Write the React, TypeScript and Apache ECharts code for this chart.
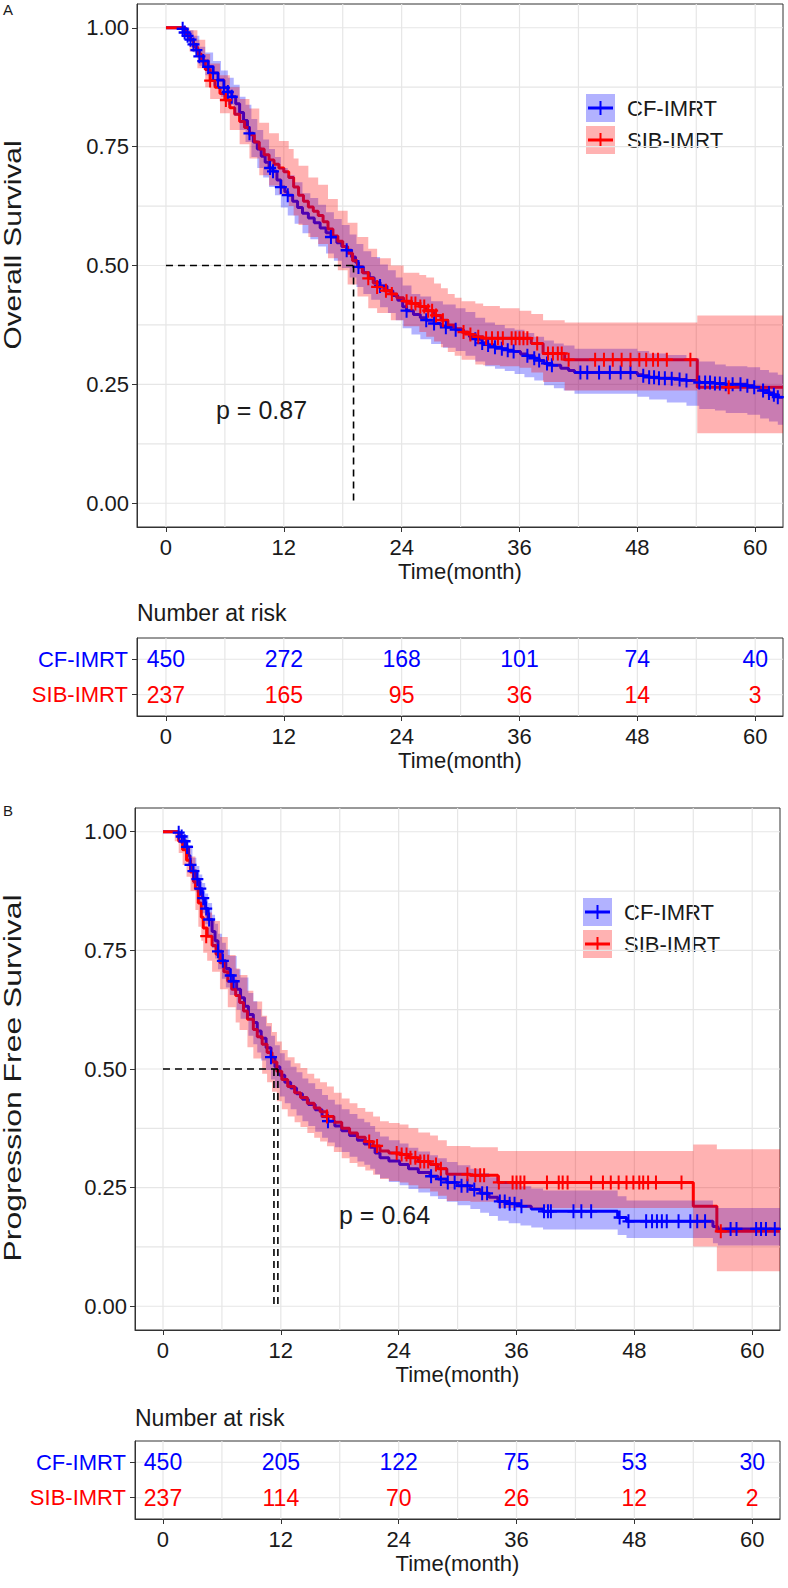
import React, { useEffect, useRef } from 'react';
import * as echarts from 'echarts';

const FONT = '"Liberation Sans", Arial, Helvetica, sans-serif';
const BLUE = '#0000FF';
const RED = '#FF0000';
const BLUE_FILL = 'rgba(0,0,255,0.3)';
const RED_FILL = 'rgba(255,0,0,0.3)';
const TXT = '#1a1a1a';

const timeTicks = [0, 12, 24, 36, 48, 60];
const survTicks = [0, 0.25, 0.5, 0.75, 1];
const gridTimes = [0, 6, 12, 18, 24, 30, 36, 42, 48, 54, 60];
const gridSurv = [0, 0.125, 0.25, 0.375, 0.5, 0.625, 0.75, 0.875, 1];
const groups = ['CF-IMRT', 'SIB-IMRT'];

// ---------- Panel A: Overall survival ----------
const osCF: number[][] = [[0,1],[1.6,0.998],[1.9,0.99],[2.2,0.983],[2.5,0.975],[2.8,0.965],[3.1,0.953],[3.4,0.94],[3.8,0.93],[4.3,0.918],[4.8,0.905],[5.3,0.89],[5.9,0.874],[6.3,0.865],[6.7,0.855],[7.1,0.84],[7.5,0.822],[7.9,0.805],[8.3,0.788],[8.5,0.778],[8.9,0.76],[9.3,0.745],[9.7,0.73],[10.1,0.717],[10.5,0.705],[10.9,0.698],[11.3,0.68],[11.7,0.665],[12.1,0.655],[12.4,0.648],[12.9,0.635],[13.4,0.622],[13.9,0.61],[14.5,0.6],[15.1,0.59],[15.7,0.579],[16.3,0.569],[16.8,0.56],[17.4,0.548],[17.9,0.54],[18.4,0.532],[18.9,0.518],[19.3,0.507],[19.6,0.497],[20.1,0.485],[20.7,0.474],[21.2,0.465],[21.8,0.457],[22.5,0.447],[23.1,0.437],[23.6,0.427],[24.1,0.413],[24.5,0.405],[25.2,0.397],[25.9,0.39],[26.5,0.385],[27.3,0.378],[28.0,0.373],[28.5,0.37],[29.5,0.365],[30.3,0.358],[30.9,0.35],[31.5,0.345],[32.2,0.337],[32.8,0.333],[33.5,0.328],[34.2,0.325],[34.8,0.322],[35.4,0.319],[36.1,0.314],[36.8,0.31],[37.5,0.305],[38.0,0.3],[38.5,0.294],[39.3,0.29],[40.2,0.284],[41.0,0.279],[41.6,0.275],[48.0,0.27],[48.6,0.268],[49.2,0.265],[50.2,0.263],[51.5,0.262],[52.3,0.26],[53.0,0.258],[54.3,0.254],[55.9,0.252],[57.0,0.25],[59.2,0.247],[59.9,0.244],[60.5,0.238],[60.8,0.237],[61.4,0.232],[61.9,0.228],[62.3,0.223],[62.83,0.223]];
const osSIB: number[][] = [[0,1],[1.6,1],[2.0,0.987],[2.4,0.975],[2.8,0.96],[3.2,0.945],[3.6,0.93],[4.0,0.912],[4.5,0.889],[5.0,0.875],[5.5,0.862],[6.0,0.848],[6.5,0.832],[7.0,0.818],[7.5,0.803],[8.0,0.79],[8.5,0.775],[9.0,0.76],[9.5,0.745],[10.0,0.733],[10.5,0.722],[11.0,0.713],[11.5,0.705],[12.0,0.697],[12.5,0.685],[13.0,0.665],[13.5,0.648],[14.0,0.635],[14.5,0.623],[15.0,0.614],[15.5,0.605],[16.0,0.592],[16.5,0.577],[17.0,0.562],[17.5,0.551],[18.0,0.54],[18.5,0.526],[19.0,0.51],[19.5,0.497],[20.0,0.485],[20.6,0.473],[21.1,0.463],[21.5,0.455],[22.2,0.447],[22.9,0.44],[23.5,0.432],[24.2,0.425],[25.0,0.42],[25.8,0.414],[26.5,0.405],[27.3,0.395],[28.0,0.385],[28.7,0.375],[29.4,0.367],[30.1,0.36],[30.8,0.355],[31.5,0.35],[32.3,0.347],[37.2,0.336],[38.4,0.315],[40.6,0.302],[54.1,0.244],[62.83,0.244]];
const osCFCensor: number[][] = [[1.7,0.998],[1.9,0.99],[2.2,0.983],[2.5,0.975],[2.8,0.965],[3.1,0.953],[3.4,0.94],[3.8,0.93],[4.3,0.918],[4.8,0.905],[5.3,0.89],[5.9,0.874],[6.3,0.865],[6.7,0.855],[8.5,0.778],[10.6,0.705],[10.9,0.698],[11.7,0.665],[12.4,0.648],[16.8,0.56],[18.4,0.532],[19.6,0.497],[21.8,0.457],[24.5,0.405],[26.5,0.385],[27.3,0.378],[28.5,0.37],[29.5,0.365],[31.5,0.345],[32.2,0.337],[32.8,0.333],[33.5,0.328],[34.2,0.325],[34.8,0.322],[35.4,0.319],[36.8,0.31],[37.5,0.305],[38.0,0.3],[38.8,0.294],[39.3,0.29],[42.2,0.275],[42.9,0.275],[44.1,0.275],[45.2,0.275],[46.3,0.275],[47.3,0.275],[48.6,0.268],[49.2,0.265],[49.7,0.265],[50.2,0.263],[50.8,0.263],[51.5,0.262],[52.3,0.26],[53.0,0.258],[54.3,0.254],[54.9,0.254],[55.4,0.254],[55.9,0.252],[56.4,0.252],[57.0,0.25],[57.7,0.25],[58.5,0.25],[59.2,0.247],[59.9,0.244],[60.8,0.237],[61.4,0.232],[61.9,0.228],[62.3,0.223]];
const osSIBCensor: number[][] = [[4.5,0.889],[6.1,0.848],[20.6,0.473],[21.5,0.455],[22.4,0.447],[23.0,0.44],[24.5,0.425],[25.0,0.42],[25.4,0.42],[25.9,0.414],[26.3,0.414],[26.7,0.405],[27.1,0.405],[27.5,0.395],[28.2,0.385],[30.3,0.36],[31.0,0.355],[31.8,0.35],[32.6,0.347],[33.2,0.347],[33.8,0.347],[34.3,0.347],[35.2,0.347],[35.6,0.347],[36.0,0.347],[36.4,0.347],[36.8,0.347],[37.8,0.336],[38.9,0.315],[39.4,0.315],[39.9,0.315],[40.3,0.315],[41.0,0.302],[43.7,0.302],[44.6,0.302],[45.5,0.302],[46.4,0.302],[47.3,0.302],[48.2,0.302],[48.9,0.302],[49.6,0.302],[50.1,0.302],[51.0,0.302],[53.4,0.302],[57.3,0.244]];
// [time, lower, upper]
const osCFBand: number[][] = [[0,1,1],[1.6,0.99,1],[2.2,0.97,0.995],[2.8,0.948,0.983],[3.4,0.92,0.96],[4.0,0.9,0.948],[4.8,0.878,0.93],[5.6,0.855,0.91],[6.3,0.838,0.895],[6.9,0.815,0.88],[7.5,0.785,0.855],[8.1,0.76,0.838],[8.7,0.728,0.808],[9.3,0.705,0.785],[9.9,0.685,0.765],[10.5,0.665,0.745],[11.1,0.648,0.728],[11.7,0.622,0.705],[12.4,0.605,0.69],[13.1,0.588,0.675],[13.9,0.568,0.652],[14.7,0.555,0.642],[15.5,0.54,0.628],[16.3,0.525,0.612],[17.1,0.51,0.598],[17.9,0.495,0.585],[18.7,0.475,0.565],[19.4,0.455,0.545],[20.1,0.44,0.53],[20.9,0.428,0.518],[21.8,0.412,0.502],[22.6,0.4,0.49],[23.4,0.385,0.475],[24.1,0.368,0.458],[25.0,0.355,0.44],[25.9,0.345,0.435],[27.0,0.335,0.425],[28.2,0.327,0.418],[29.5,0.32,0.41],[30.5,0.31,0.402],[31.5,0.298,0.39],[32.5,0.288,0.38],[33.5,0.283,0.375],[34.5,0.278,0.368],[35.5,0.272,0.365],[36.5,0.265,0.358],[37.5,0.258,0.35],[38.5,0.248,0.342],[39.5,0.242,0.336],[40.5,0.237,0.332],[41.6,0.23,0.325],[48.0,0.224,0.32],[49.2,0.218,0.315],[51.0,0.212,0.312],[53.0,0.205,0.305],[54.3,0.198,0.298],[55.9,0.195,0.292],[57.0,0.19,0.288],[59.2,0.186,0.286],[60.5,0.178,0.28],[61.4,0.172,0.275],[62.3,0.165,0.27],[62.83,0.165,0.27]];
const osSIBBand: number[][] = [[0,1,1],[1.6,0.98,1],[2.4,0.95,0.995],[3.2,0.915,0.975],[4.0,0.875,0.945],[4.5,0.85,0.925],[5.5,0.82,0.9],[6.5,0.785,0.875],[7.5,0.755,0.85],[8.5,0.725,0.83],[9.5,0.69,0.8],[10.5,0.668,0.778],[11.5,0.65,0.762],[12.5,0.625,0.745],[13.0,0.605,0.725],[13.5,0.585,0.71],[14.5,0.56,0.685],[15.5,0.545,0.67],[16.5,0.515,0.64],[17.5,0.49,0.615],[18.5,0.46,0.59],[19.5,0.435,0.56],[20.6,0.41,0.535],[21.5,0.4,0.515],[22.9,0.385,0.5],[24.2,0.372,0.485],[25.8,0.36,0.48],[26.5,0.35,0.475],[27.3,0.34,0.462],[28.0,0.328,0.452],[28.7,0.318,0.44],[29.4,0.31,0.432],[30.1,0.302,0.425],[31.5,0.292,0.42],[32.3,0.29,0.415],[34.0,0.288,0.41],[36.0,0.285,0.405],[37.2,0.275,0.398],[38.4,0.255,0.385],[40.6,0.237,0.38],[54.1,0.147,0.395],[62.83,0.147,0.395]];
const osMedianH: number[][] = [[0,0.5],[19.1,0.5]];
const osMedianV: number[][] = [[19.1,0.5],[19.1,0]];
const osRiskCF = [450, 272, 168, 101, 74, 40];
const osRiskSIB = [237, 165, 95, 36, 14, 3];

// ---------- Panel B: Progression free survival ----------
const pfsCF: number[][] = [[0,1],[1.55,0.998],[1.8,0.99],[2.1,0.98],[2.4,0.968],[2.6,0.95],[2.75,0.93],[3.0,0.917],[3.4,0.9],[3.7,0.88],[4.0,0.86],[4.3,0.838],[4.6,0.815],[5.0,0.79],[5.3,0.77],[5.6,0.748],[6.0,0.728],[6.4,0.712],[6.8,0.697],[7.1,0.685],[7.5,0.668],[7.9,0.65],[8.3,0.632],[8.7,0.615],[9.2,0.598],[9.6,0.58],[10.0,0.565],[10.5,0.545],[11.0,0.525],[11.4,0.505],[11.9,0.487],[12.4,0.472],[13.0,0.46],[13.6,0.448],[14.2,0.436],[14.8,0.425],[15.5,0.414],[16.2,0.4],[16.8,0.39],[17.5,0.38],[18.2,0.37],[19.0,0.36],[19.8,0.35],[20.5,0.342],[21.1,0.335],[21.6,0.323],[22.1,0.313],[23.0,0.306],[24.1,0.299],[25.0,0.29],[26.0,0.282],[27.2,0.274],[28.0,0.268],[28.9,0.261],[30.0,0.254],[31.3,0.246],[32.3,0.238],[33.2,0.23],[34.1,0.221],[35.2,0.216],[36.4,0.211],[37.5,0.205],[38.7,0.2],[46.3,0.187],[47.2,0.179],[56.0,0.168],[56.5,0.163],[62.83,0.163]];
const pfsSIB: number[][] = [[0,1],[1.2,1],[1.6,0.98],[2.0,0.962],[2.4,0.94],[2.8,0.915],[3.1,0.895],[3.3,0.88],[3.6,0.85],[3.9,0.82],[4.1,0.797],[4.5,0.78],[5.0,0.76],[5.4,0.742],[5.8,0.724],[6.2,0.705],[6.6,0.685],[7.0,0.668],[7.4,0.655],[7.8,0.64],[8.2,0.622],[8.6,0.605],[9.2,0.583],[9.6,0.568],[10.1,0.552],[10.6,0.535],[11.1,0.515],[11.6,0.495],[12.1,0.478],[12.7,0.463],[13.4,0.45],[14.0,0.44],[14.7,0.428],[15.4,0.418],[16.0,0.41],[16.7,0.4],[17.4,0.388],[18.2,0.375],[19.0,0.365],[19.8,0.356],[20.6,0.347],[21.4,0.338],[22.1,0.327],[23.0,0.323],[24.1,0.32],[25.0,0.313],[26.0,0.305],[27.2,0.299],[28.0,0.29],[28.9,0.278],[31.3,0.276],[34.1,0.261],[54.0,0.211],[56.4,0.158],[62.83,0.158]];
const pfsCFCensor: number[][] = [[1.6,0.998],[1.9,0.99],[2.2,0.98],[2.45,0.968],[2.8,0.93],[3.1,0.917],[3.5,0.9],[3.8,0.88],[4.1,0.86],[4.4,0.838],[4.7,0.815],[5.6,0.748],[6.1,0.728],[6.9,0.697],[7.2,0.685],[11.0,0.525],[16.8,0.39],[27.3,0.274],[28.3,0.268],[29.0,0.261],[29.7,0.261],[30.4,0.254],[31.0,0.254],[31.7,0.246],[32.5,0.238],[33.0,0.238],[34.3,0.221],[34.8,0.221],[35.3,0.216],[35.8,0.216],[36.5,0.211],[38.8,0.2],[39.2,0.2],[39.5,0.2],[41.8,0.2],[42.6,0.2],[43.6,0.2],[46.5,0.187],[47.4,0.179],[49.2,0.179],[49.8,0.179],[50.3,0.179],[50.8,0.179],[51.3,0.179],[52.5,0.179],[53.7,0.179],[54.4,0.179],[55.2,0.179],[57.8,0.163],[58.4,0.163],[60.4,0.163],[60.9,0.163],[61.4,0.163],[62.3,0.163]];
const pfsSIBCensor: number[][] = [[4.4,0.78],[16.7,0.4],[21.0,0.347],[21.8,0.338],[23.8,0.323],[24.3,0.32],[24.8,0.32],[25.2,0.313],[25.7,0.313],[26.2,0.305],[26.6,0.305],[27.0,0.305],[27.8,0.299],[28.3,0.29],[31.0,0.278],[31.8,0.276],[32.3,0.276],[32.7,0.276],[34.2,0.261],[35.6,0.261],[36.0,0.261],[36.4,0.261],[36.8,0.261],[39.1,0.261],[40.3,0.261],[40.7,0.261],[41.2,0.261],[43.6,0.261],[44.8,0.261],[45.6,0.261],[46.4,0.261],[47.2,0.261],[47.9,0.261],[48.5,0.261],[48.9,0.261],[49.4,0.261],[50.2,0.261],[52.8,0.261],[56.8,0.158]];
const pfsCFBand: number[][] = [[0,1,1],[1.55,0.99,1],[2.1,0.963,0.993],[2.6,0.928,0.972],[3.0,0.89,0.945],[3.4,0.872,0.928],[3.7,0.85,0.91],[4.0,0.828,0.892],[4.3,0.805,0.87],[4.6,0.78,0.85],[5.0,0.755,0.825],[5.3,0.733,0.806],[5.6,0.71,0.785],[6.0,0.69,0.766],[6.4,0.672,0.752],[6.8,0.656,0.738],[7.5,0.625,0.71],[7.9,0.606,0.693],[8.7,0.57,0.66],[9.2,0.552,0.643],[9.6,0.535,0.626],[10.0,0.518,0.61],[10.5,0.498,0.59],[11.0,0.478,0.57],[11.4,0.46,0.55],[11.9,0.442,0.533],[12.4,0.428,0.518],[13.0,0.415,0.505],[13.6,0.402,0.493],[14.2,0.39,0.48],[14.8,0.38,0.47],[15.5,0.368,0.458],[16.2,0.355,0.445],[16.8,0.345,0.435],[17.5,0.335,0.425],[18.2,0.325,0.415],[19.0,0.315,0.405],[19.8,0.305,0.395],[20.5,0.298,0.388],[21.1,0.29,0.38],[21.6,0.278,0.368],[22.1,0.27,0.358],[23.0,0.262,0.35],[24.1,0.255,0.343],[25.0,0.247,0.334],[26.0,0.24,0.326],[27.2,0.232,0.318],[28.0,0.226,0.312],[28.9,0.22,0.304],[30.0,0.213,0.297],[31.3,0.205,0.29],[32.3,0.197,0.281],[33.2,0.19,0.272],[34.1,0.18,0.263],[35.2,0.175,0.258],[36.4,0.17,0.253],[37.5,0.166,0.248],[38.7,0.162,0.244],[46.3,0.15,0.232],[47.2,0.144,0.223],[56.0,0.133,0.212],[56.5,0.128,0.207],[62.83,0.128,0.207]];
const pfsSIBBand: number[][] = [[0,1,1],[1.2,0.98,1],[1.6,0.955,0.995],[2.0,0.93,0.985],[2.4,0.905,0.97],[2.8,0.875,0.948],[3.3,0.835,0.92],[3.6,0.8,0.895],[3.9,0.77,0.868],[4.1,0.745,0.845],[4.5,0.728,0.83],[5.0,0.705,0.812],[5.8,0.668,0.778],[6.6,0.63,0.74],[7.4,0.598,0.712],[7.8,0.582,0.698],[8.6,0.546,0.665],[9.2,0.522,0.642],[10.1,0.49,0.612],[10.6,0.472,0.597],[11.1,0.452,0.578],[11.6,0.432,0.558],[12.1,0.415,0.54],[12.7,0.4,0.525],[13.4,0.388,0.512],[14.0,0.378,0.502],[14.7,0.365,0.49],[15.4,0.355,0.48],[16.0,0.347,0.472],[16.7,0.337,0.463],[17.4,0.325,0.45],[18.2,0.312,0.438],[19.0,0.302,0.428],[19.8,0.294,0.418],[20.6,0.286,0.41],[21.4,0.277,0.4],[22.1,0.268,0.39],[23.0,0.264,0.386],[24.1,0.261,0.383],[25.0,0.255,0.375],[26.0,0.248,0.366],[27.2,0.242,0.36],[28.0,0.233,0.35],[28.9,0.222,0.338],[31.3,0.22,0.335],[34.1,0.207,0.327],[54.0,0.126,0.341],[56.4,0.074,0.331],[62.83,0.074,0.331]];
const pfsMedianH: number[][] = [[0,0.5],[11.7,0.5]];
const pfsMedianV1: number[][] = [[11.7,0.5],[11.7,0]];
const pfsMedianV2: number[][] = [[11.3,0.5],[11.3,0]];
const pfsRiskCF = [450, 205, 122, 75, 53, 30];
const pfsRiskSIB = [237, 114, 70, 26, 12, 2];

const PLUS = 'path://M5,0h2v5h5v2h-5v5h-2v-5h-5v-2h5z';

function gridLineSeries(xi: number, yi: number, xs: number[], ys: number[], xr: number[], yr: number[]) {
  const items: number[][] = [];
  xs.forEach((x) => items.push([x, yr[0], 0]));
  ys.forEach((y) => items.push([xr[0], y, 1]));
  return {
    type: 'custom', xAxisIndex: xi, yAxisIndex: yi, z: 0, silent: true,
    data: items, encode: { x: 0, y: 1 },
    renderItem: (params: any, api: any) => {
      const a = api.value(0), b = api.value(1), kind = api.value(2);
      const p1 = kind === 0 ? api.coord([a, yr[0]]) : api.coord([xr[0], b]);
      const p2 = kind === 0 ? api.coord([a, yr[1]]) : api.coord([xr[1], b]);
      return { type: 'line', shape: { x1: p1[0], y1: p1[1], x2: p2[0], y2: p2[1] }, style: { stroke: '#E6E6E6', lineWidth: 1.2 } };
    },
  };
}

function bandSeries(band: number[][], fill: string, xi: number, yi: number) {
  return {
    type: 'custom', xAxisIndex: xi, yAxisIndex: yi, z: 3, silent: true,
    data: band, encode: { x: 0, y: [1, 2] },
    renderItem: (params: any, api: any) => {
      if (params.dataIndex !== 0) return null;
      const up: number[][] = [];
      const lo: number[][] = [];
      for (let i = 0; i < band.length; i++) {
        const t = band[i][0];
        const tn = i < band.length - 1 ? band[i + 1][0] : t;
        up.push(api.coord([t, band[i][2]]), api.coord([tn, band[i][2]]));
        lo.push(api.coord([t, band[i][1]]), api.coord([tn, band[i][1]]));
      }
      return { type: 'polygon', shape: { points: up.concat(lo.reverse()) }, style: { fill } };
    },
  };
}

function curveSeries(data: number[][], color: string, xi: number, yi: number, z: number) {
  return {
    type: 'line', xAxisIndex: xi, yAxisIndex: yi, data, step: 'end', showSymbol: false, symbol: 'none',
    z, silent: true, lineStyle: { color, width: 3 },
  };
}

function censorSeries(data: number[][], color: string, xi: number, yi: number) {
  return {
    type: 'scatter', xAxisIndex: xi, yAxisIndex: yi, data, symbol: PLUS, symbolSize: [12, 14],
    z: 4, silent: true, itemStyle: { color, opacity: 1 },
  };
}

function dashSeries(data: number[][], xi: number, yi: number) {
  return {
    type: 'line', xAxisIndex: xi, yAxisIndex: yi, data, showSymbol: false, symbol: 'none', z: 5, silent: true,
    lineStyle: { color: '#000', width: 1.6, type: [7, 5] },
  };
}

function riskTextSeries(values: number[], row: number, color: string, xi: number, yi: number) {
  return {
    type: 'custom', xAxisIndex: xi, yAxisIndex: yi, z: 4, silent: true,
    data: timeTicks.map((t, i) => [t, row, values[i]]), encode: { x: 0, y: 1 },
    renderItem: (params: any, api: any) => {
      const p = api.coord([api.value(0), api.value(1)]);
      return {
        type: 'text', x: p[0], y: p[1],
        style: { text: String(api.value(2)), fill: color, fontSize: 23, fontFamily: FONT, align: 'center', verticalAlign: 'middle' },
      };
    },
  };
}

function xAxisCfg(gi: number, min: number, max: number, labelMargin: number, nameGap: number) {
  return {
    type: 'value', gridIndex: gi, min, max,
    name: 'Time(month)', nameLocation: 'middle', nameGap,
    nameTextStyle: { fontSize: 22, color: TXT, fontFamily: FONT },
    axisLine: { show: true, onZero: false, lineStyle: { color: '#333', width: 1 } },
    axisTick: { show: true, customValues: timeTicks, length: 5, lineStyle: { color: '#333', width: 1 } },
    axisLabel: { show: true, customValues: timeTicks, margin: labelMargin, fontSize: 22, color: TXT, fontFamily: FONT },
    splitLine: { show: false }, minorSplitLine: { show: false },
  };
}

function ySurvCfg(gi: number) {
  return {
    type: 'value', gridIndex: gi, min: -0.05, max: 1.05,
    axisLine: { show: true, onZero: false, lineStyle: { color: '#333', width: 1 } },
    axisTick: { show: true, customValues: survTicks, length: 5, lineStyle: { color: '#333', width: 1 } },
    axisLabel: { show: true, customValues: survTicks, margin: 8, fontSize: 22, color: TXT, fontFamily: FONT, formatter: (v: number) => v.toFixed(2) },
    splitLine: { show: false },
  };
}

function yRiskCfg(gi: number) {
  return {
    type: 'value', gridIndex: gi, min: 0.4, max: 2.6,
    axisLine: { show: true, onZero: false, lineStyle: { color: '#333', width: 1 } },
    axisTick: { show: true, customValues: [1, 2], length: 5, lineStyle: { color: '#333', width: 1 } },
    axisLabel: {
      show: true, customValues: [1, 2], margin: 9,
      formatter: (v: number) => (v === 2 ? '{cf|' + groups[0] + '}' : '{sib|' + groups[1] + '}'),
      rich: {
        cf: { color: BLUE, fontSize: 22, fontFamily: FONT },
        sib: { color: RED, fontSize: 22, fontFamily: FONT },
      },
    },
    splitLine: { show: false },
  };
}

function legendGroup(x: number, y: number) {
  const key = (ky: number, fill: string, stroke: string, label: string) => [
    { type: 'rect', shape: { x, y: ky, width: 29, height: 28 }, style: { fill } },
    { type: 'line', shape: { x1: x + 2, y1: ky + 14, x2: x + 27, y2: ky + 14 }, style: { stroke, lineWidth: 3 } },
    { type: 'line', shape: { x1: x + 14.5, y1: ky + 7, x2: x + 14.5, y2: ky + 21 }, style: { stroke, lineWidth: 2 } },
    { type: 'text', x: x + 41, y: ky + 14, style: { text: label, fill: TXT, fontSize: 22, fontFamily: FONT, align: 'left', verticalAlign: 'middle' } },
  ];
  return [
    { type: 'rect', shape: { x: x - 11, y: y - 44, width: 160, height: 117 }, style: { fill: '#fff' } },
    ...key(y, BLUE_FILL, BLUE, groups[0]),
    ...key(y + 32, RED_FILL, RED, groups[1]),
  ];
}

export default function App() {
  const ref = useRef<HTMLDivElement>(null);
  useEffect(() => {
    if (!ref.current) return;
    const chart = echarts.init(ref.current, undefined, { renderer: 'svg' });
    const aMin = -2.95, bMin = -2.85, xMax = 62.83;
    const g = { show: true, borderColor: '#333', borderWidth: 1, backgroundColor: 'transparent', containLabel: false, outerBoundsMode: 'none' };
    const option: any = {
      animation: false,
      backgroundColor: '#fff',
      textStyle: { fontFamily: FONT },
      grid: [
        { ...g, left: 137, top: 4, width: 646, height: 523 },
        { ...g, left: 137, top: 638, width: 646, height: 78 },
        { ...g, left: 135, top: 808, width: 645, height: 522 },
        { ...g, left: 135, top: 1441, width: 645, height: 78 },
      ],
      xAxis: [
        xAxisCfg(0, aMin, xMax, 9, 33),
        xAxisCfg(1, aMin, xMax, 9, 33),
        xAxisCfg(2, bMin, xMax, 9, 33),
        xAxisCfg(3, bMin, xMax, 9, 33),
      ],
      yAxis: [ySurvCfg(0), yRiskCfg(1), ySurvCfg(2), yRiskCfg(3)],
      series: [
        gridLineSeries(0, 0, gridTimes, gridSurv, [aMin, xMax], [-0.05, 1.05]),
        gridLineSeries(1, 1, gridTimes, [1, 2], [aMin, xMax], [0.4, 2.6]),
        gridLineSeries(2, 2, gridTimes, gridSurv, [bMin, xMax], [-0.05, 1.05]),
        gridLineSeries(3, 3, gridTimes, [1, 2], [bMin, xMax], [0.4, 2.6]),

        curveSeries(osCF, BLUE, 0, 0, 2),
        curveSeries(osSIB, RED, 0, 0, 2),
        bandSeries(osCFBand, BLUE_FILL, 0, 0),
        bandSeries(osSIBBand, RED_FILL, 0, 0),
        censorSeries(osCFCensor, BLUE, 0, 0),
        censorSeries(osSIBCensor, RED, 0, 0),
        dashSeries(osMedianH, 0, 0),
        dashSeries(osMedianV, 0, 0),
        riskTextSeries(osRiskCF, 2, BLUE, 1, 1),
        riskTextSeries(osRiskSIB, 1, RED, 1, 1),

        curveSeries(pfsCF, BLUE, 2, 2, 2),
        curveSeries(pfsSIB, RED, 2, 2, 2),
        bandSeries(pfsCFBand, BLUE_FILL, 2, 2),
        bandSeries(pfsSIBBand, RED_FILL, 2, 2),
        censorSeries(pfsCFCensor, BLUE, 2, 2),
        censorSeries(pfsSIBCensor, RED, 2, 2),
        dashSeries(pfsMedianH, 2, 2),
        dashSeries(pfsMedianV1, 2, 2),
        dashSeries(pfsMedianV2, 2, 2),
        riskTextSeries(pfsRiskCF, 2, BLUE, 3, 3),
        riskTextSeries(pfsRiskSIB, 1, RED, 3, 3),
      ],
      graphic: [
        { type: 'text', x: 3, y: 2, z: 10, style: { text: 'A', fill: TXT, fontSize: 15, fontFamily: FONT } },
        { type: 'text', x: 3, y: 803, z: 10, style: { text: 'B', fill: TXT, fontSize: 15, fontFamily: FONT } },
        { type: 'text', x: 13, y: 245, rotation: Math.PI / 2, scaleX: 1.3, z: 10, style: { text: 'Overall Survival', fill: TXT, fontSize: 23, fontFamily: FONT, align: 'center', verticalAlign: 'middle' } },
        { type: 'text', x: 13, y: 1078, rotation: Math.PI / 2, scaleX: 1.33, z: 10, style: { text: 'Progression Free Survival', fill: TXT, fontSize: 24, fontFamily: FONT, align: 'center', verticalAlign: 'middle' } },
        { type: 'text', x: 216, y: 410, z: 10, style: { text: 'p = 0.87', fill: TXT, fontSize: 25, fontFamily: FONT, align: 'left', verticalAlign: 'middle' } },
        { type: 'text', x: 339, y: 1215, z: 10, style: { text: 'p = 0.64', fill: TXT, fontSize: 25, fontFamily: FONT, align: 'left', verticalAlign: 'middle' } },
        { type: 'text', x: 137, y: 613, z: 10, style: { text: 'Number at risk', fill: TXT, fontSize: 23, fontFamily: FONT, align: 'left', verticalAlign: 'middle' } },
        { type: 'text', x: 135, y: 1418, z: 10, style: { text: 'Number at risk', fill: TXT, fontSize: 23, fontFamily: FONT, align: 'left', verticalAlign: 'middle' } },
        { type: 'group', z: 6, children: legendGroup(586, 94) },
        { type: 'group', z: 6, children: legendGroup(583, 898) },
      ],
    };
    chart.setOption(option);
    return () => chart.dispose();
  }, []);
  return <div ref={ref} style={{ position: 'absolute', left: 0, top: 0, width: 788, height: 1588, background: '#fff' }} />;
}
